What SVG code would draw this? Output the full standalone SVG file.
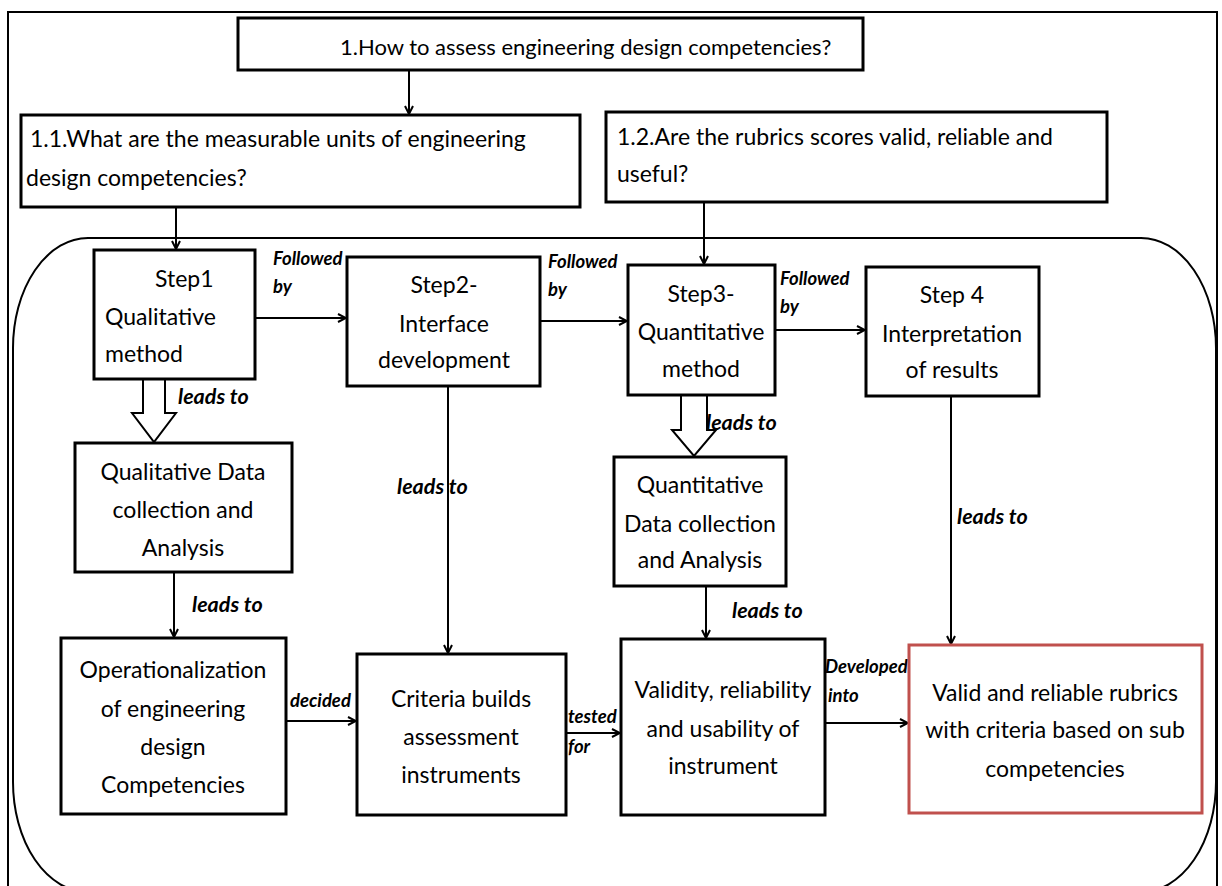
<svg xmlns="http://www.w3.org/2000/svg" width="1222" height="886" viewBox="0 0 1222 886">
  <defs>
    <marker id="head" viewBox="0 0 10 10" refX="9" refY="5" markerWidth="10" markerHeight="10" markerUnits="userSpaceOnUse" orient="auto">
      <path d="M1,1 L9,5 L1,9" fill="none" stroke="#000" stroke-width="2"/>
    </marker>
    <style>
      .frame { fill: none; stroke: #000; stroke-width: 2; }
      .box { fill: #fff; stroke: #000; stroke-width: 3; }
      .goal { fill: #fff; stroke: #C0504D; stroke-width: 3; }
      .t { font-family: Lato, "Open Sans", sans-serif; font-size: 23px; fill: #000; }
      .t.title { font-size: 22px; }
      .c { text-anchor: middle; }
      .lbl { font-family: Lato, "Open Sans", sans-serif; font-size: 18.5px; font-weight: bold; font-style: italic; fill: #000; }
      .lbl.lead { font-size: 21.5px; }
      .edge { fill: none; stroke: #000; stroke-width: 2; marker-end: url(#head); }
      .block { fill: #fff; stroke: #000; stroke-width: 2; }
    </style>
  </defs>

  <rect width="1222" height="886" fill="#fff"/>

  <!-- outer frame and process container -->
  <rect class="frame" x="8" y="12" width="1209" height="884"/>
  <rect class="frame" x="13" y="238" width="1203" height="654" rx="75" ry="110" stroke-width="2.5"/>

  <!-- connectors -->
  <g id="connectors">
    <line class="edge" x1="409" y1="70" x2="409" y2="114"/>
    <line class="edge" x1="176" y1="207" x2="176" y2="249"/>
    <line class="edge" x1="704" y1="202" x2="704" y2="264"/>
    <line class="edge" x1="255" y1="318" x2="346" y2="318" stroke-width="2.5"/>
    <line class="edge" x1="540" y1="321" x2="627" y2="321" stroke-width="2.5"/>
    <line class="edge" x1="775" y1="330" x2="865" y2="330" stroke-width="2.5"/>
    <line class="edge" x1="448" y1="386" x2="448" y2="653"/>
    <line class="edge" x1="174" y1="572" x2="174" y2="637"/>
    <line class="edge" x1="286" y1="721" x2="356" y2="721" stroke-width="2.5"/>
    <line class="edge" x1="566" y1="733" x2="620" y2="733" stroke-width="2.5"/>
    <line class="edge" x1="706" y1="586" x2="706" y2="638"/>
    <line class="edge" x1="825" y1="723" x2="908" y2="723" stroke-width="2.5"/>
    <line class="edge" x1="951" y1="396" x2="951" y2="644"/>
    <!-- hollow block arrows -->
    <path class="block" d="M143,380 L143,413 L132,413 L154,442 L176,413 L165,413 L165,380"/>
    <path class="block" d="M681,396 L681,430 L672,430 L694,456 L716,430 L707,430 L707,396"/>
    <!-- connector labels -->
    <text class="lbl" x="273" y="265">Followed</text>
    <text class="lbl" x="273" y="293">by</text>
    <text class="lbl" x="548" y="268">Followed</text>
    <text class="lbl" x="548" y="296">by</text>
    <text class="lbl" x="780" y="285">Followed</text>
    <text class="lbl" x="780" y="313">by</text>
    <text class="lbl lead" x="178" y="404">leads to</text>
    <text class="lbl lead" x="706" y="430">leads to</text>
    <text class="lbl lead" x="397" y="494">leads to</text>
    <text class="lbl lead" x="192" y="612">leads to</text>
    <text class="lbl lead" x="732" y="618">leads to</text>
    <text class="lbl lead" x="957" y="524">leads to</text>
    <text class="lbl" x="290" y="707">decided</text>
    <text class="lbl" x="568" y="723">tested</text>
    <text class="lbl" x="568" y="753">for</text>
    <text class="lbl" x="825" y="673">Developed</text>
    <text class="lbl" x="828" y="702">into</text>
  </g>

  <g id="q1">
    <rect class="box" x="238" y="18" width="625" height="52"/>
    <text class="t title" x="340" y="55">1.How to assess engineering design competencies?</text>
  </g>

  <g id="q1-1">
    <rect class="box" x="21" y="115" width="559" height="92"/>
    <text class="t" x="30" y="147">1.1.What are the measurable units of engineering</text>
    <text class="t" x="26" y="186">design competencies?</text>
  </g>

  <g id="q1-2">
    <rect class="box" x="606" y="112" width="501" height="90"/>
    <text class="t" x="617" y="145">1.2.Are the rubrics scores valid, reliable and</text>
    <text class="t" x="617" y="182">useful?</text>
  </g>

  <g id="step1">
    <rect class="box" x="94" y="250" width="161" height="129"/>
    <text class="t" x="155" y="287">Step1</text>
    <text class="t" x="105" y="325">Qualitative</text>
    <text class="t" x="105" y="362">method</text>
  </g>

  <g id="step2">
    <rect class="box" x="347" y="257" width="193" height="129"/>
    <text class="t c" x="444" y="293">Step2-</text>
    <text class="t c" x="444" y="332">Interface</text>
    <text class="t c" x="444" y="368">development</text>
  </g>

  <g id="step3">
    <rect class="box" x="628" y="265" width="147" height="130"/>
    <text class="t c" x="701" y="302">Step3-</text>
    <text class="t c" x="701" y="340">Quantitative</text>
    <text class="t c" x="701" y="377">method</text>
  </g>

  <g id="step4">
    <rect class="box" x="866" y="267" width="173" height="129"/>
    <text class="t c" x="952" y="303">Step 4</text>
    <text class="t c" x="952" y="342">Interpretation</text>
    <text class="t c" x="952" y="378">of results</text>
  </g>

  <g id="qual-data">
    <rect class="box" x="75" y="443" width="217" height="129"/>
    <text class="t c" x="183" y="480">Qualitative Data</text>
    <text class="t c" x="183" y="518">collection and</text>
    <text class="t c" x="183" y="556">Analysis</text>
  </g>

  <g id="quant-data">
    <rect class="box" x="614" y="457" width="172" height="129"/>
    <text class="t c" x="700" y="493">Quantitative</text>
    <text class="t c" x="700" y="532">Data collection</text>
    <text class="t c" x="700" y="568">and Analysis</text>
  </g>

  <g id="operationalization">
    <rect class="box" x="61" y="638" width="225" height="176"/>
    <text class="t c" x="173" y="678">Operationalization</text>
    <text class="t c" x="173" y="717">of engineering</text>
    <text class="t c" x="173" y="755">design</text>
    <text class="t c" x="173" y="793">Competencies</text>
  </g>

  <g id="criteria">
    <rect class="box" x="357" y="654" width="209" height="161"/>
    <text class="t c" x="461" y="707">Criteria builds</text>
    <text class="t c" x="461" y="745">assessment</text>
    <text class="t c" x="461" y="783">instruments</text>
  </g>

  <g id="validity">
    <rect class="box" x="621" y="639" width="204" height="176"/>
    <text class="t c" x="723" y="698">Validity, reliability</text>
    <text class="t c" x="723" y="737">and usability of</text>
    <text class="t c" x="723" y="774">instrument</text>
  </g>

  <g id="rubrics">
    <rect class="goal" x="909" y="645" width="293" height="168"/>
    <text class="t c" x="1055" y="701">Valid and reliable rubrics</text>
    <text class="t c" x="1055" y="738">with criteria based on sub</text>
    <text class="t c" x="1055" y="777">competencies</text>
  </g>
</svg>
